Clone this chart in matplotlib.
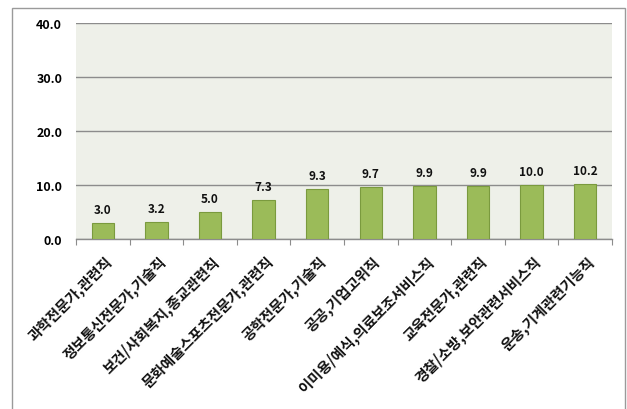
import matplotlib
matplotlib.use("Agg")
import matplotlib.pyplot as plt
from matplotlib.patches import Rectangle

plt.rcParams['font.family'] = ['Noto Sans CJK KR', 'DejaVu Sans']

categories = [
    "과학전문가,관련직",
    "정보통신전문가,기술직",
    "보건/사회복지,종교관련직",
    "문화예술스포츠전문가,관련직",
    "공학전문가,기술직",
    "공공,기업고위직",
    "이미용/예식,의료보조서비스직",
    "교육전문가,관련직",
    "경찰/소방,보안관련서비스직",
    "운송,기계관련기능직",
]
values = [3.0, 3.2, 5.0, 7.3, 9.3, 9.7, 9.9, 9.9, 10.0, 10.2]
yticks = [0.0, 10.0, 20.0, 30.0, 40.0]

fig = plt.figure(figsize=(6.27, 4.10), dpi=100)
fig.patch.set_facecolor("white")

# outer chart frame (open at the bottom)
fig.add_artist(Rectangle((12 / 627, -0.05), (625 - 12) / 627, 1.05 - 9 / 410,
                         transform=fig.transFigure, fill=False,
                         edgecolor="#9a9a9a", linewidth=1.0))

ax = fig.add_axes([76 / 627, 1 - 240 / 410, (612 - 76) / 627, (240 - 24) / 410])
ax.set_facecolor("#eef0e9")

x = list(range(len(categories)))
ax.bar(x, values, width=0.42, color="#9bbb59", edgecolor="#7a9a3e",
       linewidth=0.8, zorder=3)

for xi, v in zip(x, values):
    ax.text(xi, v + 1.3, f"{v:.1f}", ha="center", va="bottom",
            fontsize=8.5, fontweight="bold", color="#111111", zorder=4)

ax.set_xlim(-0.5, len(categories) - 0.5)
ax.set_ylim(0, 40)
ax.set_yticks(yticks)
ax.set_yticklabels([f"{t:.1f}" for t in yticks], fontsize=9, fontweight="bold")
ax.yaxis.grid(True, color="#8c8c8c", linewidth=1.0, zorder=1)
ax.set_axisbelow(True)
ax.tick_params(axis="y", length=0, pad=10)

# category boundary ticks below the axis
ax.set_xticks([i - 0.5 for i in range(len(categories) + 1)])
ax.set_xticklabels([])
ax.tick_params(axis="x", length=4, color="#8c8c8c", direction="out")
for xi, lab in zip(x, categories):
    ax.annotate(lab, xy=(xi, 0), xycoords="data", xytext=(5, -14),
                textcoords="offset points", rotation=45, rotation_mode="anchor",
                ha="right", va="center", fontsize=10.5, fontweight="bold",
                color="#111111")

for side in ("top", "right", "left"):
    ax.spines[side].set_visible(False)
ax.spines["bottom"].set_color("#8c8c8c")
ax.spines["bottom"].set_linewidth(1.0)

fig.savefig("out.png", dpi=100, facecolor="white")
